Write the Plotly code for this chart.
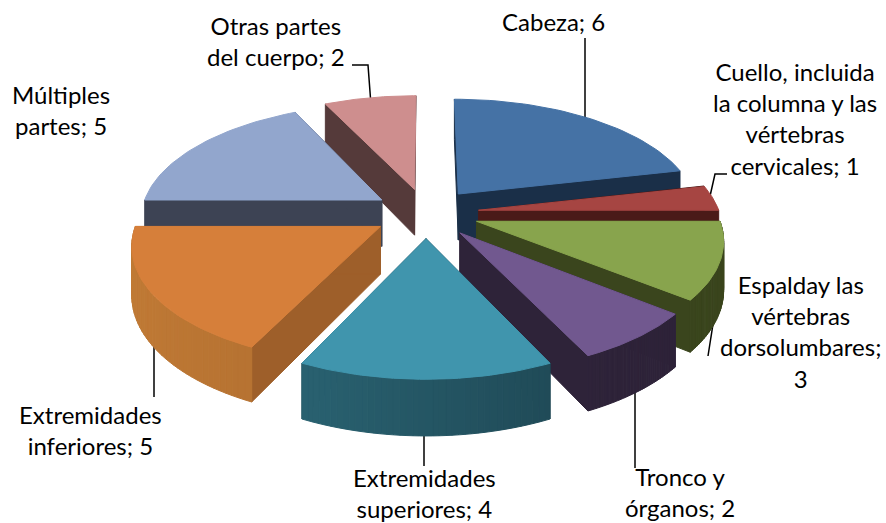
import numpy as np
import plotly.graph_objects as go

categories = ["Cabeza", "Cuello, incluida la columna y las vértebras cervicales",
              "Espalday las vértebras dorsolumbares", "Tronco y órganos",
              "Extremidades superiores", "Extremidades inferiores",
              "Múltiples partes", "Otras partes del cuerpo"]
values = [6, 1, 3, 2, 4, 5, 5, 2]
top_colors = ["#4572A5", "#A64542", "#88A44D", "#71588F", "#4095AD", "#D67F3A", "#92A6CD", "#CE8E8E"]
wall_colors = ["#1A2F48", "#4A1A18", "#3A451D", "#2E2339", "#1A3C48", "#9E5F2A", "#3D4354", "#553A3A"]
arc_light = ["#1A2F48", "#4A1A18", "#3A451D", "#2E2339", "#2F7080", "#C07A35", "#3D4354", "#553A3A"]
arc_dark = ["#1A2F48", "#4A1A18", "#3A451D", "#2E2339", "#1A3C48", "#9E5F2A", "#3D4354", "#553A3A"]
paint_order = [7, 6, 0, 1, 2, 5, 3, 4]

label_text = ["Cabeza; 6", "Cuello, incluida<br>la columna y las<br>vértebras<br>cervicales; 1",
              "Espalday las<br>vértebras<br>dorsolumbares;<br>3", "Tronco y<br>órganos; 2",
              "Extremidades<br>superiores; 4", "Extremidades<br>inferiores; 5",
              "Múltiples<br>partes; 5", "Otras partes<br>del cuerpo; 2"]
label_x = [553, 795, 800, 680, 424, 90, 61, 276]
label_y = [21, 118, 331, 492, 493, 430, 110, 41]
leaders = [([585, 585], [38, 125]),
           ([708, 715, 727], [205, 174, 174]),
           ([716, 708], [305, 356]),
           ([635, 635], [380, 468]),
           ([424, 424], [425, 466]),
           ([154, 154], [330, 397]),
           ([352, 368, 371], [65, 65, 105])]

CX, CY, RX, RY, P, EXPLODE, H = 426, 213, 241, 113, 0.14, 0.22, 47


def project(x, y, z=0.0):
    w = 1 - P * y
    return CX + RX * x / w, CY + (RY * y + H * z) / w


def poly(xs, ys, color):
    return go.Scatter(x=list(xs) + [xs[0]], y=list(ys) + [ys[0]], mode="lines", fill="toself",
                      fillcolor=color, line=dict(color=color, width=1), hoverinfo="skip",
                      showlegend=False)


def mix(a, b, t):
    ca = [int(a[i:i + 2], 16) for i in (1, 3, 5)]
    cb = [int(b[i:i + 2], 16) for i in (1, 3, 5)]
    return "rgb(%d,%d,%d)" % tuple(round(u + (v - u) * t) for u, v in zip(ca, cb))


edges = np.cumsum([0] + values) / sum(values) * 2 * np.pi
fig = go.Figure()

for lx, ly in leaders:
    fig.add_trace(go.Scatter(x=lx, y=ly, mode="lines", line=dict(color="#000000", width=1.5),
                             hoverinfo="skip", showlegend=False))

for i in paint_order:
    t0, t1 = edges[i], edges[i + 1]
    mid = (t0 + t1) / 2
    ox, oy = EXPLODE * np.sin(mid), -EXPLODE * np.cos(mid)
    th = np.linspace(t0, t1, 41)
    px, py = ox + np.sin(th), oy - np.cos(th)
    # radial walls
    for end in (t0, t1):
        ex, ey = ox + np.sin(end), oy - np.cos(end)
        a = project(ox, oy)
        b = project(ex, ey)
        c = project(ex, ey, 1)
        d = project(ox, oy, 1)
        fig.add_trace(poly([a[0], b[0], c[0], d[0]], [a[1], b[1], c[1], d[1]], wall_colors[i]))
    # outer rim strips, only where it faces the viewer
    for k in range(len(th) - 1):
        m = (th[k] + th[k + 1]) / 2
        if np.cos(m) > 0.0:
            continue
        a = project(px[k], py[k])
        b = project(px[k + 1], py[k + 1])
        c = project(px[k + 1], py[k + 1], 1)
        d = project(px[k], py[k], 1)
        f = (1 - np.sin(m)) / 2
        col = mix(arc_dark[i], arc_light[i], f)
        fig.add_trace(poly([a[0], b[0], c[0], d[0]], [a[1], b[1], c[1], d[1]], col))
    # top face
    a = project(ox, oy)
    tx, ty = project(px, py)
    fig.add_trace(poly([a[0]] + list(tx), [a[1]] + list(ty), top_colors[i]))

for txt, x, y in zip(label_text, label_x, label_y):
    fig.add_annotation(x=x, y=y, text=txt, showarrow=False, xanchor="center", yanchor="middle",
                       align="center", font=dict(family="Lato", size=24, color="#000000"))

fig.update_layout(width=886, height=523, margin=dict(l=0, r=0, t=0, b=0),
                  paper_bgcolor="white", plot_bgcolor="white",
                  xaxis=dict(range=[0, 886], visible=False),
                  yaxis=dict(range=[523, 0], visible=False), showlegend=False)
fig.write_html("out.html", config={"displayModeBar": False},
               post_script="document.body.style.margin='0';document.body.style.overflow='hidden';")
